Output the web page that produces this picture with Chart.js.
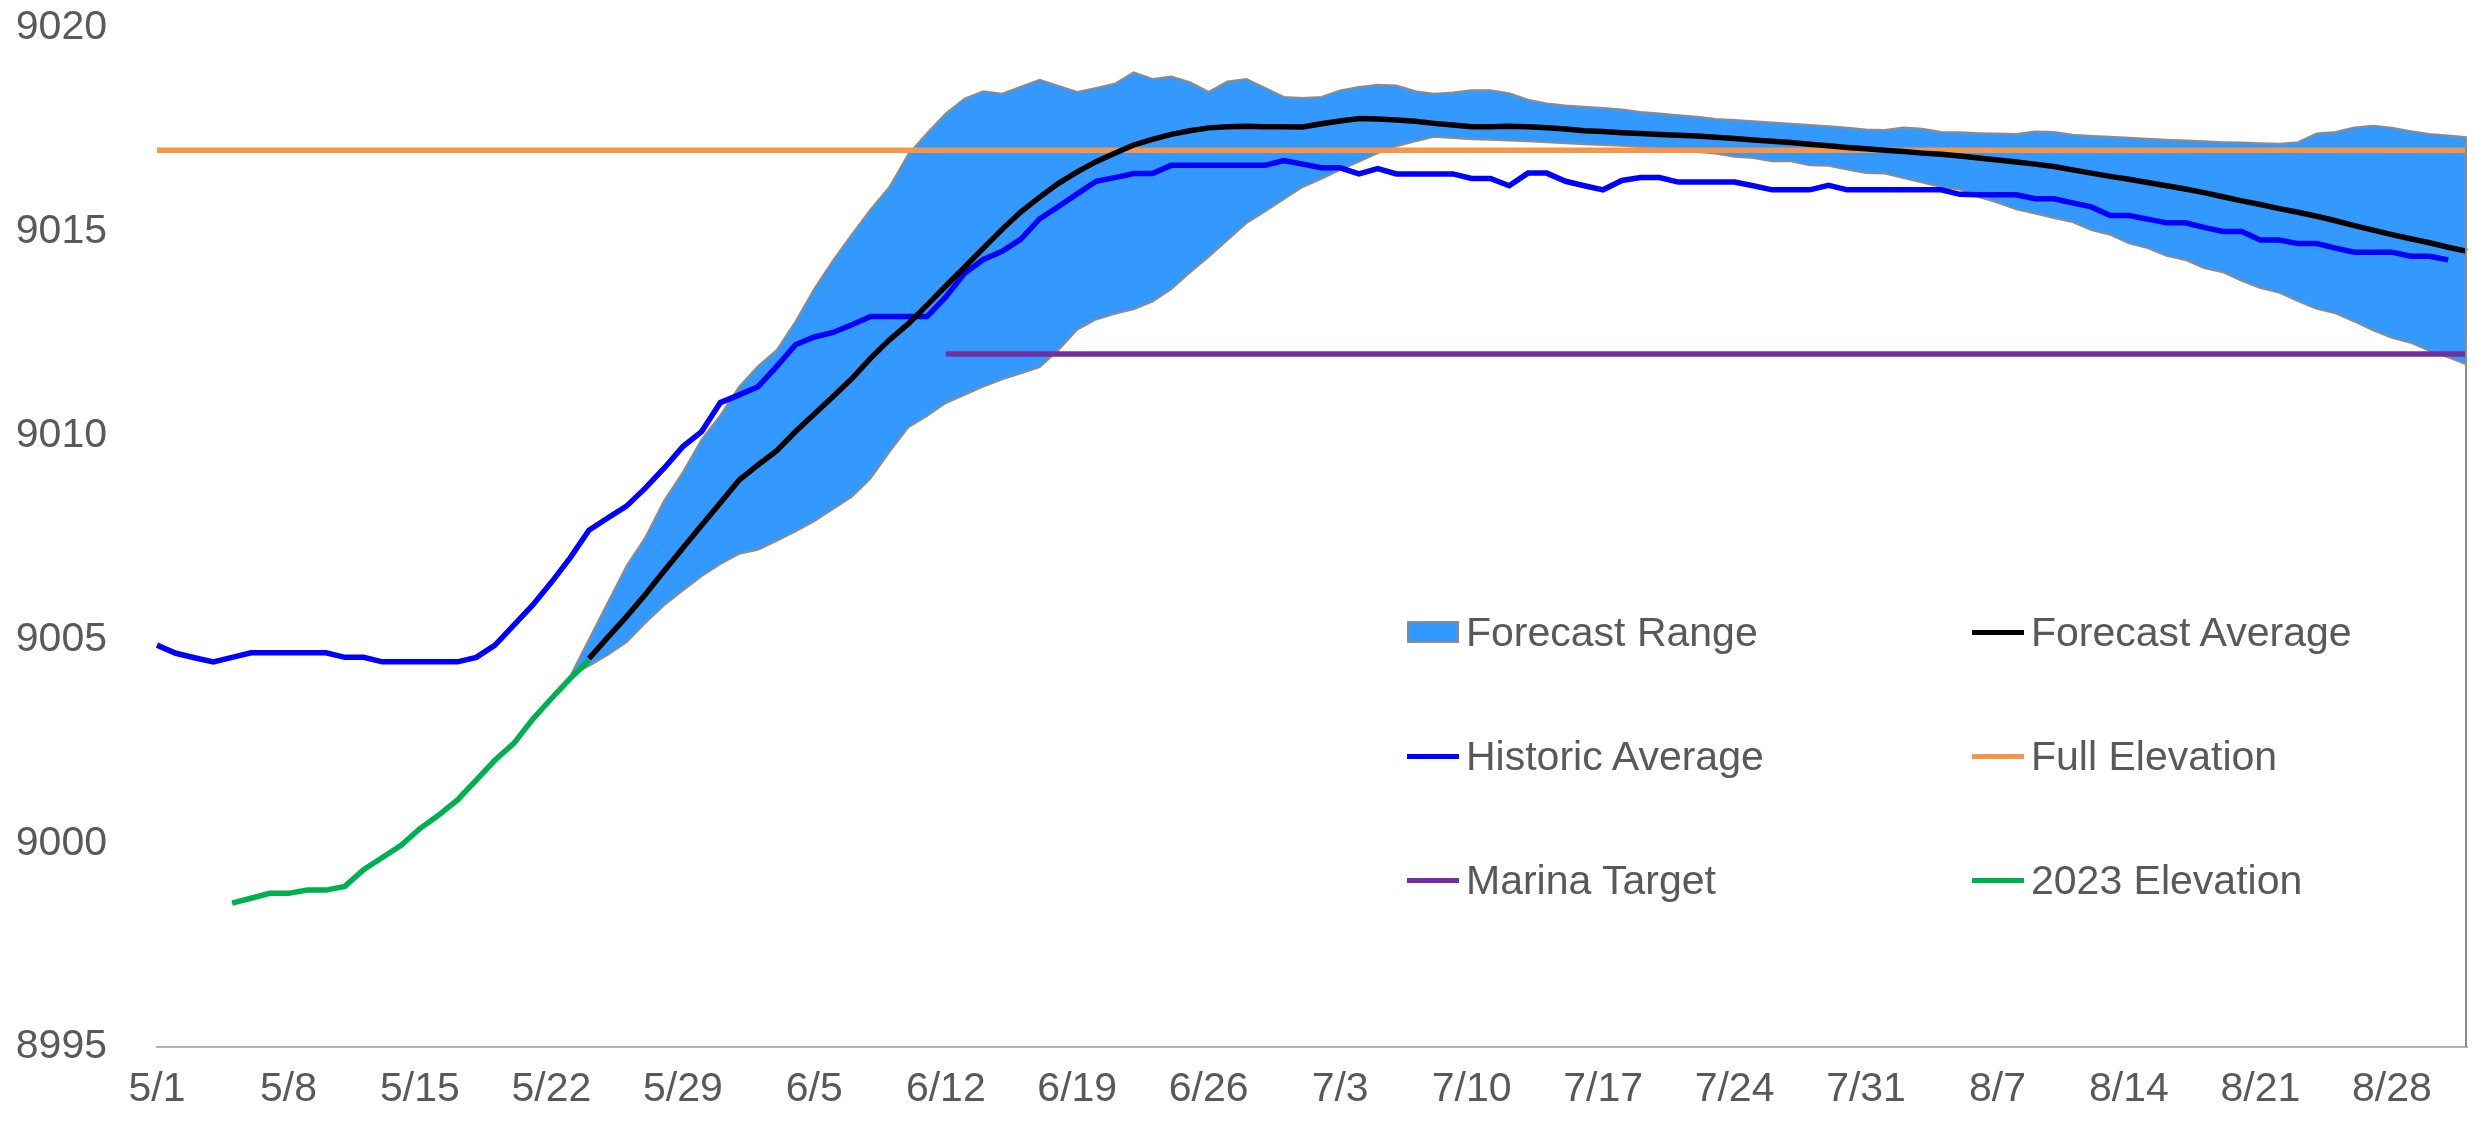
<!DOCTYPE html>
<html>
<head>
<meta charset="utf-8">
<script src="https://cdn.jsdelivr.net/npm/chart.js@4.4.1/dist/chart.umd.min.js"></script>
<style>
  html, body { margin: 0; padding: 0; background: #fff; }
  #wrap { position: relative; width: 2475px; height: 1121px; }
  #legend { position: absolute; left: 0; top: 0; font-family: "Liberation Sans", Arial, sans-serif; font-size: 41px; color: #595959; }
  .item { position: absolute; display: flex; align-items: center; height: 50px; margin-top: -25px; white-space: nowrap; }
  .swatch { box-sizing: border-box; width: 52px; margin-right: 7px; }
</style>
</head>
<body>
<div id="wrap">
  <canvas id="lakeChart"></canvas>
  <div id="legend"></div>
</div>
<script>
// daily categories, 5/1 through 9/1
const dates = [];
for (let i = 0; i < 124; i++) {
    const d = new Date(2023, 4, 1 + i);
    dates.push((d.getMonth() + 1) + '/' + d.getDate());
}

const historicAvg = [
    9004.86, 9004.66, 9004.55, 9004.45, 9004.56, 9004.67, 9004.67, 9004.67, 9004.67, 9004.67,
    9004.56, 9004.56, 9004.45, 9004.45, 9004.45, 9004.45, 9004.45, 9004.56, 9004.86, 9005.35,
    9005.84, 9006.4, 9007.0, 9007.68, 9007.98, 9008.27, 9008.71, 9009.2, 9009.73, 9010.1,
    9010.81, 9011.0, 9011.2, 9011.7, 9012.23, 9012.42, 9012.53, 9012.72, 9012.92, 9012.92,
    9012.92, 9012.92, 9013.4, 9013.98, 9014.32, 9014.52, 9014.82, 9015.32, 9015.62, 9015.93,
    9016.24, 9016.33, 9016.43, 9016.43, 9016.63, 9016.63, 9016.63, 9016.63, 9016.63, 9016.63,
    9016.75, 9016.66, 9016.57, 9016.57, 9016.42, 9016.55, 9016.42, 9016.42, 9016.42, 9016.42,
    9016.31, 9016.31, 9016.13, 9016.44, 9016.44, 9016.24, 9016.13, 9016.03, 9016.26, 9016.33,
    9016.33, 9016.22, 9016.22, 9016.22, 9016.22, 9016.13, 9016.03, 9016.03, 9016.03, 9016.14,
    9016.03, 9016.03, 9016.03, 9016.03, 9016.03, 9016.03, 9015.92, 9015.91, 9015.91, 9015.91,
    9015.81, 9015.81, 9015.71, 9015.61, 9015.4, 9015.4, 9015.31, 9015.22, 9015.22, 9015.11,
    9015.01, 9015.01, 9014.8, 9014.8, 9014.71, 9014.71, 9014.6, 9014.5, 9014.5, 9014.5,
    9014.4, 9014.4, 9014.31
];

// 2023 observed, starts 5/5
const elev2023Start = 4;
const elev2023 = [
    8998.53, 8998.65, 8998.77, 8998.77, 8998.85, 8998.85, 8998.94, 8999.35, 8999.65, 8999.95,
    9000.36, 9000.69, 9001.06, 9001.55, 9002.04, 9002.45, 9003.04, 9003.55, 9004.04, 9004.49
];

// forecast average, starts 5/24
const forecastAvgStart = 23;
const forecastAvg = [
    9004.53, 9005.05, 9005.56, 9006.1, 9006.68, 9007.24, 9007.8, 9008.35, 9008.91, 9009.28,
    9009.63, 9010.1, 9010.53, 9010.96, 9011.4, 9011.9, 9012.35, 9012.74, 9013.2, 9013.67,
    9014.13, 9014.6, 9015.06, 9015.49, 9015.85, 9016.19, 9016.47, 9016.72, 9016.93, 9017.13,
    9017.27, 9017.39, 9017.48, 9017.55, 9017.58, 9017.59, 9017.58, 9017.58, 9017.57, 9017.65,
    9017.72, 9017.78, 9017.77, 9017.74, 9017.71, 9017.66, 9017.62, 9017.58, 9017.58, 9017.59,
    9017.58, 9017.55, 9017.52, 9017.48, 9017.46, 9017.43, 9017.41, 9017.39, 9017.37, 9017.35,
    9017.32, 9017.29, 9017.25, 9017.22, 9017.19, 9017.15, 9017.11, 9017.07, 9017.04, 9017.0,
    9016.97, 9016.93, 9016.9, 9016.86, 9016.81, 9016.76, 9016.71, 9016.66, 9016.6, 9016.52,
    9016.44, 9016.36, 9016.29, 9016.21, 9016.13, 9016.05, 9015.96, 9015.86, 9015.76, 9015.67,
    9015.57, 9015.48, 9015.38, 9015.27, 9015.15, 9015.04, 9014.93, 9014.83, 9014.73, 9014.62,
    9014.52
];

// forecast range (high / low), starts 5/23
const rangeStart = 22;
const rangeHigh = [
    9004.1, 9005.0, 9005.9, 9006.8, 9007.5, 9008.4, 9009.1, 9009.9, 9010.5, 9011.2,
    9011.7, 9012.1, 9012.8, 9013.6, 9014.3, 9014.94, 9015.55, 9016.1, 9016.9, 9017.42,
    9017.9, 9018.27, 9018.45, 9018.39, 9018.56, 9018.73, 9018.58, 9018.43, 9018.53, 9018.63,
    9018.91, 9018.75, 9018.81, 9018.67, 9018.43, 9018.69, 9018.75, 9018.53, 9018.31, 9018.28,
    9018.31, 9018.47, 9018.55, 9018.61, 9018.59, 9018.45, 9018.39, 9018.42, 9018.47, 9018.47,
    9018.4, 9018.24, 9018.15, 9018.1, 9018.07, 9018.04, 9018.0, 9017.94, 9017.9, 9017.86,
    9017.82, 9017.77, 9017.74, 9017.71, 9017.68, 9017.65, 9017.62, 9017.59, 9017.55, 9017.51,
    9017.5, 9017.56, 9017.53, 9017.45, 9017.44, 9017.42, 9017.41, 9017.4, 9017.46, 9017.45,
    9017.38, 9017.35, 9017.33, 9017.31, 9017.28, 9017.26, 9017.24, 9017.22, 9017.2, 9017.19,
    9017.17, 9017.16, 9017.2, 9017.41, 9017.45, 9017.56, 9017.6, 9017.55, 9017.47, 9017.4,
    9017.36, 9017.32
];
const rangeLow = [
    9004.1, 9004.35, 9004.62, 9004.93, 9005.4, 9005.84, 9006.2, 9006.55, 9006.85, 9007.1,
    9007.2, 9007.42, 9007.65, 9007.9, 9008.2, 9008.5, 9008.95, 9009.6, 9010.2, 9010.48,
    9010.8, 9011.0, 9011.2, 9011.38, 9011.53, 9011.68, 9012.1, 9012.6, 9012.85, 9012.99,
    9013.1, 9013.29, 9013.59, 9014.0, 9014.39, 9014.8, 9015.21, 9015.5, 9015.8, 9016.1,
    9016.3, 9016.52, 9016.72, 9016.93, 9017.1, 9017.22, 9017.33, 9017.3, 9017.27, 9017.26,
    9017.24, 9017.22, 9017.2, 9017.17, 9017.15, 9017.13, 9017.11, 9017.08, 9017.04, 9017.0,
    9016.96, 9016.92, 9016.84, 9016.81, 9016.73, 9016.73, 9016.63, 9016.62, 9016.53, 9016.44,
    9016.43, 9016.32, 9016.21, 9016.1, 9016.04, 9015.85, 9015.72, 9015.55, 9015.45, 9015.34,
    9015.24, 9015.04, 9014.93, 9014.72, 9014.6, 9014.41, 9014.31, 9014.11, 9014.01, 9013.8,
    9013.62, 9013.51, 9013.3, 9013.11, 9013.0, 9012.8, 9012.58, 9012.4, 9012.28, 9012.08,
    9011.92, 9011.74
];

const fullElevation = 9017;
const marinaTarget = 9012;
const marinaStart = 42; // 6/12

const yTicks = [8995, 9000, 9005, 9010, 9015, 9020];

// put a partial series onto the full date axis
function pad(start, values) {
    const out = new Array(dates.length).fill(null);
    values.forEach((v, i) => { out[start + i] = v; });
    return out;
}

const fullLine = dates.map(() => fullElevation);
const marinaLine = dates.map((d, i) => i >= marinaStart ? marinaTarget : null);

const lineBase = { pointRadius: 0, borderWidth: 5.5, fill: false, tension: 0 };

// gray right edge of the forecast range, down to the axis
const rangeEdge = {
    id: 'rangeEdge',
    afterDatasetsDraw(chart) {
        const x = chart.scales.x.getPixelForValue(dates.length - 1);
        const top = chart.scales.y.getPixelForValue(rangeHigh[rangeHigh.length - 1]);
        const ctx = chart.ctx;
        ctx.save();
        ctx.strokeStyle = '#8c8c8c';
        ctx.lineWidth = 2;
        ctx.beginPath();
        ctx.moveTo(x - 1, top);
        ctx.lineTo(x - 1, chart.chartArea.bottom);
        ctx.stroke();
        ctx.restore();
    }
};

const ctx = document.getElementById('lakeChart');

var lakeChart = new Chart(ctx, {
    type: 'line',
    data: {
        labels: dates,
        datasets: [
            {
                label: 'Forecast Range',
                data: pad(rangeStart, rangeHigh),
                borderColor: '#8c8c8c',
                borderWidth: 2,
                backgroundColor: '#3399FF',
                pointRadius: 0,
                fill: '+1',
                order: 9
            },
            {
                label: 'Forecast Low',
                data: pad(rangeStart, rangeLow),
                borderColor: '#8c8c8c',
                borderWidth: 2,
                pointRadius: 0,
                fill: false,
                order: 8
            },
            { ...lineBase, label: 'Full Elevation', data: fullLine, borderColor: '#F79646', order: 6 },
            { ...lineBase, label: 'Marina Target', data: marinaLine, borderColor: '#7030A0', order: 5 },
            { ...lineBase, label: 'Historic Average', data: historicAvg, borderColor: '#0000FF', order: 4 },
            { ...lineBase, label: 'Forecast Average', data: pad(forecastAvgStart, forecastAvg), borderColor: '#000000', order: 3 },
            { ...lineBase, label: '2023 Elevation', data: pad(elev2023Start, elev2023), borderColor: '#00B050', order: 2 }
        ]
    },
    options: {
        responsive: true,
        maintainAspectRatio: false,
        animation: false,
        devicePixelRatio: 1,
        layout: { padding: { top: 28, right: 8, left: 0, bottom: 0 } },
        plugins: {
            legend: { display: false },
            tooltip: { enabled: false }
        },
        scales: {
            x: {
                grid: { display: false, drawTicks: false },
                border: { display: true, color: '#b3b3b3', width: 2 },
                ticks: {
                    autoSkip: false,
                    maxRotation: 0,
                    padding: 18,
                    color: '#595959',
                    font: { family: 'Liberation Sans', size: 41 },
                    callback: (v, i) => (i % 7 === 0 ? dates[i] : '')
                },
                afterFit: (scale) => {
                    scale.height = 74;
                    scale.paddingLeft = 0;
                    scale.paddingRight = 0;
                }
            },
            y: {
                min: 8995,
                max: 9020,
                grid: { display: false, drawTicks: false },
                border: { display: false },
                afterBuildTicks: (scale) => { scale.ticks = yTicks.map(v => ({ value: v })); },
                ticks: {
                    padding: 50,
                    color: '#595959',
                    font: { family: 'Liberation Sans', size: 41 },
                    callback: (v) => String(v)
                },
                afterFit: (scale) => {
                    scale.width = 157;
                    scale.paddingTop = 0;
                    scale.paddingBottom = 0;
                }
            }
        }
    },
    plugins: [rangeEdge]
});

// legend, two columns inside the plot
const legendItems = [
    { label: 'Forecast Range', color: '#3399FF', kind: 'box', left: 1407, top: 632 },
    { label: 'Forecast Average', color: '#000000', kind: 'line', left: 1972, top: 632 },
    { label: 'Historic Average', color: '#0000FF', kind: 'line', left: 1407, top: 756 },
    { label: 'Full Elevation', color: '#F79646', kind: 'line', left: 1972, top: 756 },
    { label: 'Marina Target', color: '#7030A0', kind: 'line', left: 1407, top: 880 },
    { label: '2023 Elevation', color: '#00B050', kind: 'line', left: 1972, top: 880 }
];

const legendEl = document.getElementById('legend');
legendItems.forEach(item => {
    const row = document.createElement('div');
    row.className = 'item';
    row.style.left = item.left + 'px';
    row.style.top = item.top + 'px';
    const sw = document.createElement('span');
    sw.className = 'swatch';
    if (item.kind === 'box') {
        sw.style.height = '22px';
        sw.style.background = item.color;
        sw.style.border = '2px solid #8c8c8c';
    } else {
        sw.style.height = '5px';
        sw.style.background = item.color;
    }
    const txt = document.createElement('span');
    txt.textContent = item.label;
    row.appendChild(sw);
    row.appendChild(txt);
    legendEl.appendChild(row);
});
</script>
</body>
</html>
